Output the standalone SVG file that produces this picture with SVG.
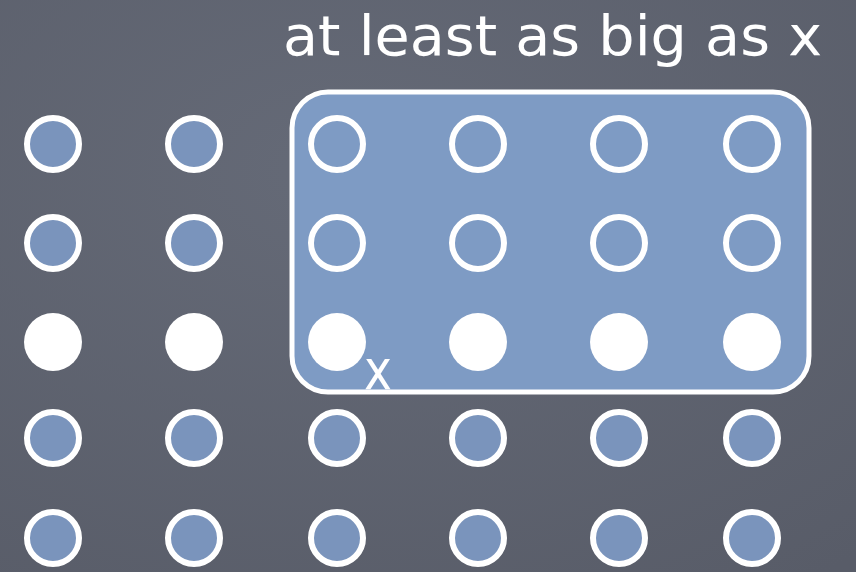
<svg xmlns="http://www.w3.org/2000/svg" width="856" height="572" viewBox="0 0 856 572">
<defs>
<style>
.c{fill:#7a94bc;stroke:#fff;stroke-width:6}
.o{fill:none;stroke:#fff;stroke-width:6}
.f{fill:#fff}
.t{fill:#fff;font-family:"DejaVu Sans",sans-serif;font-size:56px}
</style>
<radialGradient id="bg" cx="0.4" cy="0.3" r="0.9">
<stop offset="0" stop-color="#656a77"/>
<stop offset="1" stop-color="#585c68"/>
</radialGradient>
</defs>
<rect width="856" height="572" fill="url(#bg)"/>
<g id="box">
<rect x="292" y="92" width="517" height="300" rx="36" fill="#7e9bc4" stroke="#fff" stroke-width="5"/>
</g>
<g id="title"><text class="t" x="283" y="55" textLength="539" lengthAdjust="spacingAndGlyphs">at least as big as x</text></g>
<g id="label-x"><text class="t" x="364" y="389" textLength="28" lengthAdjust="spacingAndGlyphs">x</text></g>
<g id="row1">
<circle class="c" cx="53" cy="144" r="26"/>
<circle class="c" cx="194" cy="144" r="26"/>
<circle class="o" cx="337" cy="144" r="26"/>
<circle class="o" cx="478" cy="144" r="26"/>
<circle class="o" cx="619" cy="144" r="26"/>
<circle class="o" cx="752" cy="144" r="26"/>
</g>
<g id="row2">
<circle class="c" cx="53" cy="243" r="26"/>
<circle class="c" cx="194" cy="243" r="26"/>
<circle class="o" cx="337" cy="243" r="26"/>
<circle class="o" cx="478" cy="243" r="26"/>
<circle class="o" cx="619" cy="243" r="26"/>
<circle class="o" cx="752" cy="243" r="26"/>
</g>
<g id="row3">
<circle class="f" cx="53" cy="342" r="29"/>
<circle class="f" cx="194" cy="342" r="29"/>
<circle class="f" cx="337" cy="342" r="29"/>
<circle class="f" cx="478" cy="342" r="29"/>
<circle class="f" cx="619" cy="342" r="29"/>
<circle class="f" cx="752" cy="342" r="29"/>
</g>
<g id="row4">
<circle class="c" cx="53" cy="438" r="26"/>
<circle class="c" cx="194" cy="438" r="26"/>
<circle class="c" cx="337" cy="438" r="26"/>
<circle class="c" cx="478" cy="438" r="26"/>
<circle class="c" cx="619" cy="438" r="26"/>
<circle class="c" cx="752" cy="438" r="26"/>
</g>
<g id="row5">
<circle class="c" cx="53" cy="538" r="26"/>
<circle class="c" cx="194" cy="538" r="26"/>
<circle class="c" cx="337" cy="538" r="26"/>
<circle class="c" cx="478" cy="538" r="26"/>
<circle class="c" cx="619" cy="538" r="26"/>
<circle class="c" cx="752" cy="538" r="26"/>
</g>
<g id="connectors"/>
</svg>
